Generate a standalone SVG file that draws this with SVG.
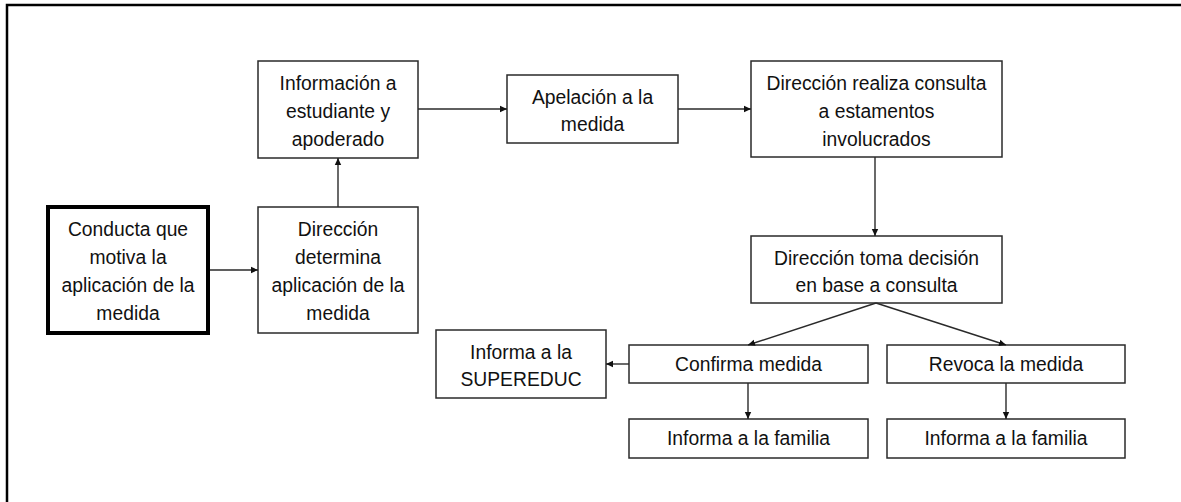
<svg xmlns="http://www.w3.org/2000/svg" width="1181" height="502" viewBox="0 0 1181 502">
<style>
.box{fill:#fff;stroke:#2a2a2a;stroke-width:1.5}
.thick{fill:#fff;stroke:#000;stroke-width:4}
.t{font-family:"Liberation Sans",Arial,sans-serif;font-size:21px;fill:#111;text-anchor:middle}
.c{fill:none;stroke:#2a2a2a;stroke-width:1.4;marker-end:url(#ah)}
</style>
<defs>
<marker id="ah" markerUnits="userSpaceOnUse" markerWidth="8" markerHeight="8" refX="7" refY="4" orient="auto">
<path d="M0,0.8 L7,4 L0,7.2 z" fill="#111"/>
</marker>
</defs>
<rect x="0" y="0" width="1181" height="502" fill="#fff"/>
<path d="M7,502 L7,5 L1181,5" fill="none" stroke="#000" stroke-width="2.5"/>

<g id="n-conducta">
<rect class="thick" x="48" y="207" width="160" height="126"/>
<g class="t" transform="translate(128,0) scale(0.92,1)">
<text x="0" y="236">Conducta que</text>
<text x="0" y="264">motiva la</text>
<text x="0" y="292">aplicación de la</text>
<text x="0" y="320">medida</text>
</g>
</g>
<g id="n-direccion">
<rect class="box" x="258" y="207" width="160" height="126"/>
<g class="t" transform="translate(338,0) scale(0.92,1)">
<text x="0" y="236">Dirección</text>
<text x="0" y="264">determina</text>
<text x="0" y="292">aplicación de la</text>
<text x="0" y="320">medida</text>
</g>
</g>
<g id="n-info">
<rect class="box" x="258" y="61" width="160" height="97"/>
<g class="t" transform="translate(338,0) scale(0.92,1)">
<text x="0" y="90">Información a</text>
<text x="0" y="118">estudiante y</text>
<text x="0" y="146">apoderado</text>
</g>
</g>
<g id="n-apelacion">
<rect class="box" x="507" y="75" width="171" height="68"/>
<g class="t" transform="translate(592.5,0) scale(0.92,1)">
<text x="0" y="104">Apelación a la</text>
<text x="0" y="131">medida</text>
</g>
</g>
<g id="n-consulta">
<rect class="box" x="751" y="61" width="251" height="96"/>
<g class="t" transform="translate(876.5,0) scale(0.92,1)">
<text x="0" y="90">Dirección realiza consulta</text>
<text x="0" y="118">a estamentos</text>
<text x="0" y="146">involucrados</text>
</g>
</g>
<g id="n-decision">
<rect class="box" x="751" y="236" width="251" height="67"/>
<g class="t" transform="translate(876.5,0) scale(0.92,1)">
<text x="0" y="265">Dirección toma decisión</text>
<text x="0" y="292">en base a consulta</text>
</g>
</g>
<g id="n-confirma">
<rect class="box" x="629" y="345" width="239" height="38"/>
<g class="t" transform="translate(748.5,0) scale(0.92,1)">
<text x="0" y="371">Confirma medida</text>
</g>
</g>
<g id="n-revoca">
<rect class="box" x="887" y="345" width="238" height="38"/>
<g class="t" transform="translate(1006,0) scale(0.92,1)">
<text x="0" y="371">Revoca la medida</text>
</g>
</g>
<g id="n-supereduc">
<rect class="box" x="436" y="330" width="170" height="68"/>
<g class="t" transform="translate(521,0) scale(0.92,1)">
<text x="0" y="359">Informa a la</text>
<text x="0" y="386">SUPEREDUC</text>
</g>
</g>
<g id="n-familia1">
<rect class="box" x="629" y="419" width="239" height="39"/>
<g class="t" transform="translate(748.5,0) scale(0.92,1)">
<text x="0" y="445">Informa a la familia</text>
</g>
</g>
<g id="n-familia2">
<rect class="box" x="887" y="419" width="238" height="39"/>
<g class="t" transform="translate(1006,0) scale(0.92,1)">
<text x="0" y="445">Informa a la familia</text>
</g>
</g>

<g id="connectors">
<path class="c" d="M210,270 L258,270"/>
<path class="c" d="M338,207 L338,158"/>
<path class="c" d="M418,109 L507,109"/>
<path class="c" d="M678,109 L751,109"/>
<path class="c" d="M875,157 L875,236"/>
<path class="c" d="M876,303 L748,345"/>
<path class="c" d="M876,303 L1006,345"/>
<path class="c" d="M629,364 L606,364"/>
<path class="c" d="M748,383 L748,419"/>
<path class="c" d="M1006,383 L1006,419"/>
</g>
</svg>
